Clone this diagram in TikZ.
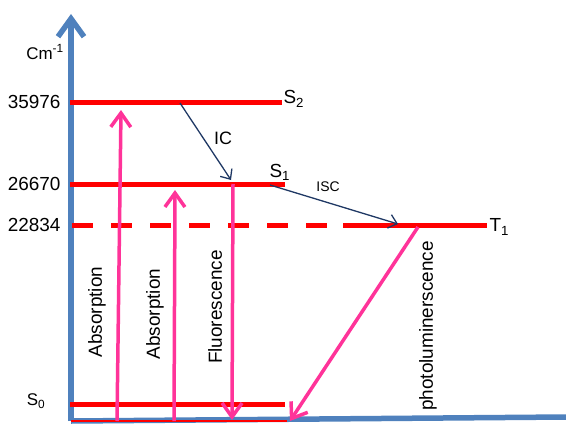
\documentclass[tikz,border=0pt]{standalone}
\usepackage{fontspec}
\setmainfont{Liberation Sans}
\usetikzlibrary{arrows.meta}

\definecolor{axisblue}{RGB}{79,129,189}
\definecolor{levelred}{RGB}{255,0,0}
\definecolor{transpink}{RGB}{255,51,153}
\definecolor{navyline}{RGB}{31,56,100}

\tikzset{
    level/.style={draw=levelred, line width=5bp},
    transition/.style={draw=transpink, line width=3.5bp, -{Straight Barb[length=14bp,width=20bp]}},
    relax/.style={draw=navyline, line width=1.3bp, -{Straight Barb[length=8bp,width=14bp]}},
    energy/.style={anchor=east, font=\fontsize{19}{22}\selectfont},
    state/.style={anchor=west, font=\fontsize{19}{22}\selectfont},
    process/.style={rotate=90, font=\fontsize{19}{22}\selectfont}
}

\begin{document}
\begin{tikzpicture}[x=1bp, y=1bp]
    \useasboundingbox (0,0) rectangle (566,423);

    % Axes
    \coordinate (origin) at (71,2);
    \coordinate (ytop) at (71,409);
    \coordinate (xend) at (566,6);
    \draw[axisblue, line width=5.5bp] (origin) -- (xend);
    \draw[axisblue, line width=5.5bp, -{Straight Barb[length=18bp,width=26bp]}] (origin) -- (ytop);
    \draw[levelred, line width=1.2bp] (origin) -- (287,2);
    \node[font=\fontsize{17}{20}\selectfont] (unit) at (45,371) {Cm\textsuperscript{-1}};

    % Draw levels
    \coordinate (s2a) at (70,321);  \coordinate (s2b) at (282,321);
    \coordinate (s1a) at (70,239);  \coordinate (s1b) at (285,239);
    \coordinate (t1a) at (72,198);  \coordinate (t1m) at (343,198);
    \coordinate (t1b) at (487,198);
    \coordinate (s0a) at (70,19);   \coordinate (s0b) at (285,19);
    \draw[level] (s2a) -- (s2b);
    \draw[level] (s1a) -- (s1b);
    \draw[level, dash pattern=on 21bp off 18bp] (t1a) -- (t1m);
    \draw[level] (t1m) -- (t1b);
    \draw[level] (s0a) -- (s0b);

    % Labels
    \node[energy] (e2) at (64,321) {35976};
    \node[energy] (e1) at (64,239) {26670};
    \node[energy] (et) at (64,198) {22834};
    \node[font=\fontsize{17}{20}\selectfont] (l0) at (36,22) {S\textsubscript{0}};
    \node[state] (l2) at (280,324) {S\textsubscript{2}};
    \node[state] (l1) at (266,251) {S\textsubscript{1}};
    \node[state] (lt) at (486,196) {T\textsubscript{1}};

    % Draw transitions
    \coordinate (a1s) at (117,2);  \coordinate (a1e) at (121,313);
    \coordinate (a2s) at (174,2);  \coordinate (a2e) at (175,233);
    \coordinate (fls) at (233,239); \coordinate (fle) at (232,3);
    \coordinate (phs) at (418,196); \coordinate (phe) at (290,2);
    \draw[transition] (a1s) -- (a1e);
    \draw[transition] (a2s) -- (a2e);
    \draw[transition] (fls) -- (fle);
    \draw[transition] (phs) -- (phe);
    \node[process] (abs1) at (97,111) {Absorption};
    \node[process] (abs2) at (155,109) {Absorption};
    \node[process] (fluo) at (215,116) {Fluorescence};
    \node[process] (phot) at (428,97) {photoluminerscence};

    % Draw relaxations
    \coordinate (ics) at (180,320); \coordinate (ice) at (231,243);
    \coordinate (iss) at (270,238); \coordinate (ise) at (398,199);
    \draw[relax] (ics) -- (ice);
    \draw[relax] (iss) -- (ise);
    \node[font=\fontsize{18}{20}\selectfont] (ic) at (223,285) {IC};
    \node[font=\fontsize{14}{16}\selectfont] (isc) at (328,236) {ISC};
\end{tikzpicture}
\end{document}
